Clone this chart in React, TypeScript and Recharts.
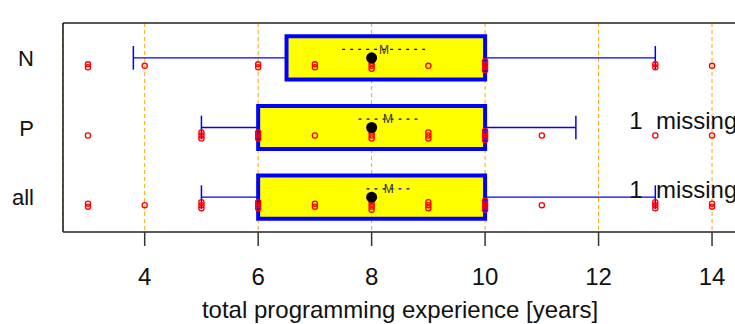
import { ScatterChart, Scatter, XAxis, YAxis, CartesianGrid, ReferenceArea, ReferenceLine, Label } from 'recharts';

const FONT = '"Liberation Sans", Arial, sans-serif';

const groups = ['N', 'P', 'all'];
const q1 = [6.5, 6, 6];
const medians = [8, 8, 8];
const q3 = [10, 10, 10];
const whiskerLow = [3.8, 5, 5];
const whiskerHigh = [13, 11.6, 13];
const means = [8.22, 8.29, 8.3];
const meanSE = [0.74, 0.52, 0.39];
const missing = [0, 1, 1];
const missingLabelX = 12.54;
const xTicks = [4, 6, 8, 10, 12, 14];
const xDomain = [2.56, 14.44];

// observed values per group, with how many people share each value
const valuesN = [3, 4, 6, 7, 8, 9, 10, 13, 14];
const countsN = [2, 1, 2, 2, 3, 1, 4, 2, 1];
const valuesP = [3, 5, 6, 7, 8, 9, 10, 11, 13, 14];
const countsP = [1, 3, 3, 1, 3, 3, 4, 1, 1, 1];
const valuesAll = [3, 4, 5, 6, 7, 8, 9, 10, 11, 13, 14];
const countsAll = [2, 1, 3, 3, 2, 4, 3, 4, 1, 3, 2];

const values = [valuesN, valuesP, valuesAll];
const counts = [countsN, countsP, countsAll];

const rowY = (i: number) => groups.length - i;
const BOX_HALF = 0.31;
const CAP_HALF = 0.17;
const MEAN_OFFSET = 0.12;

const points = groups.flatMap((_, i) =>
    values[i].map((v, j) => ({ x: v, y: rowY(i), n: counts[i][j] }))
);
const medianData = groups.map((_, i) => ({ x: medians[i], y: rowY(i) }));
const meanData = groups.map((_, i) => ({ x: means[i], y: rowY(i) + MEAN_OFFSET }));
const missingData = groups
    .map((_, i) => ({ x: missingLabelX, y: rowY(i), text: `${missing[i]}  missing`, m: missing[i] }))
    .filter((d) => d.m > 0);

const PointShape = (props: any) => {
    const { cx, cy, payload } = props;
    const n = payload.n;
    return (
        <g>
            {Array.from({ length: n }, (_, k) => (
                <circle
                    key={k}
                    cx={cx}
                    cy={cy + 8 + (k - (n - 1) / 2) * 3}
                    r={2.6}
                    fill="none"
                    stroke="#ff0000"
                    strokeWidth={1.3}
                />
            ))}
        </g>
    );
};

const MedianShape = (props: any) => <circle cx={props.cx} cy={props.cy} r={5.5} fill="#000" />;

const MeanShape = (props: any) => (
    <text x={props.cx} y={props.cy} dy="0.36em" textAnchor="middle" fontSize={12} fontFamily={FONT} fill="#333">
        M
    </text>
);

const MissingShape = (props: any) => (
    <text x={props.cx} y={props.cy + 1} textAnchor="start" fontSize={24} fontFamily={FONT} fill="#111" xmlSpace="preserve" style={{ whiteSpace: 'pre' }}>
        {props.payload.text}
    </text>
);

const XTick = (props: any) => (
    <text x={props.x} y={props.y + 37} textAnchor="middle" fontSize={24} fontFamily={FONT} fill="#111">
        {props.payload.value}
    </text>
);

const YTick = (props: any) => (
    <text x={props.x - 29} y={props.y + 8} textAnchor="end" fontSize={22} fontFamily={FONT} fill="#111">
        {groups[groups.length - props.payload.value]}
    </text>
);

export default function App() {
    return (
        <div style={{ position: 'fixed', left: 0, top: 0, width: 735, height: 324, overflow: 'hidden', background: '#fff' }}>
            <ScatterChart width={748} height={324} margin={{ top: 0, right: 11, bottom: 0, left: 0 }}>
                <CartesianGrid horizontal={false} stroke="#ffa500" strokeDasharray="4 3" />
                <XAxis
                    type="number"
                    dataKey="x"
                    domain={xDomain}
                    ticks={xTicks}
                    allowDataOverflow
                    height={92}
                    tickSize={14}
                    tick={<XTick />}
                    axisLine={{ stroke: '#222', strokeWidth: 1.6 }}
                    tickLine={{ stroke: '#333', strokeWidth: 1.5 }}
                >
                    <Label
                        content={({ viewBox }: any) => (
                            <text x={viewBox.x + viewBox.width / 2} y={viewBox.y + 86} textAnchor="middle" fontSize={24} fontFamily={FONT} fill="#111">
                                total programming experience [years]
                            </text>
                        )}
                    />
                </XAxis>
                <XAxis
                    xAxisId="top"
                    orientation="top"
                    type="number"
                    domain={xDomain}
                    ticks={xTicks}
                    allowDataOverflow
                    height={23}
                    tickSize={14}
                    tick={false}
                    axisLine={{ stroke: '#222', strokeWidth: 1.6 }}
                    tickLine={{ stroke: '#333', strokeWidth: 1.5 }}
                />
                <YAxis
                    type="number"
                    dataKey="y"
                    domain={[0.5, 3.5]}
                    ticks={[1, 2, 3]}
                    allowDataOverflow
                    width={63}
                    tickSize={0}
                    tickMargin={0}
                    tickLine={false}
                    tick={<YTick />}
                    axisLine={{ stroke: '#222', strokeWidth: 1.6 }}
                />

                {groups.map((g, i) => (
                    <ReferenceLine
                        key={`wl-${g}`}
                        segment={[{ x: whiskerLow[i], y: rowY(i) }, { x: q1[i], y: rowY(i) }]}
                        stroke="#0000ff"
                        strokeWidth={1.4}
                    />
                ))}
                {groups.map((g, i) => (
                    <ReferenceLine
                        key={`wh-${g}`}
                        segment={[{ x: q3[i], y: rowY(i) }, { x: whiskerHigh[i], y: rowY(i) }]}
                        stroke="#0000ff"
                        strokeWidth={1.4}
                    />
                ))}
                {groups.map((g, i) => (
                    <ReferenceLine
                        key={`cl-${g}`}
                        segment={[{ x: whiskerLow[i], y: rowY(i) - CAP_HALF }, { x: whiskerLow[i], y: rowY(i) + CAP_HALF }]}
                        stroke="#0000ff"
                        strokeWidth={1.5}
                    />
                ))}
                {groups.map((g, i) => (
                    <ReferenceLine
                        key={`ch-${g}`}
                        segment={[{ x: whiskerHigh[i], y: rowY(i) - CAP_HALF }, { x: whiskerHigh[i], y: rowY(i) + CAP_HALF }]}
                        stroke="#0000ff"
                        strokeWidth={1.5}
                    />
                ))}
                {groups.map((g, i) => (
                    <ReferenceArea
                        key={`box-${g}`}
                        x1={q1[i]}
                        x2={q3[i]}
                        y1={rowY(i) - BOX_HALF}
                        y2={rowY(i) + BOX_HALF}
                        fill="#ffff00"
                        fillOpacity={1}
                        stroke="#0000ff"
                        strokeWidth={4}
                    />
                ))}
                {groups.map((g, i) => (
                    <ReferenceLine
                        key={`se-${g}`}
                        segment={[
                            { x: means[i] - meanSE[i], y: rowY(i) + MEAN_OFFSET },
                            { x: means[i] + meanSE[i], y: rowY(i) + MEAN_OFFSET },
                        ]}
                        stroke="#0000ff"
                        strokeWidth={1.2}
                        strokeDasharray="3 5"
                    />
                ))}

                <Scatter data={points} shape={<PointShape />} isAnimationActive={false} />
                <Scatter data={medianData} shape={<MedianShape />} isAnimationActive={false} />
                <Scatter data={meanData} shape={<MeanShape />} isAnimationActive={false} />
                <Scatter data={missingData} shape={<MissingShape />} isAnimationActive={false} />
            </ScatterChart>
        </div>
    );
}
